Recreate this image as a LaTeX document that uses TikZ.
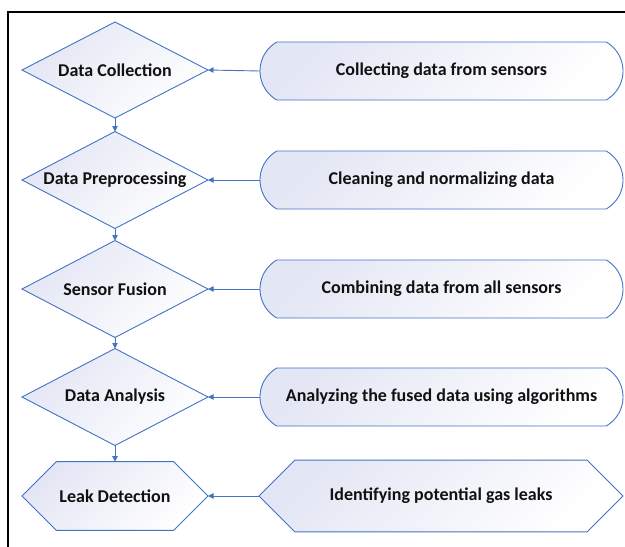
\documentclass[tikz,border=0pt]{standalone}
\usepackage{fontspec}
\setmainfont{Carlito}
\usetikzlibrary{shapes.geometric,shapes.misc,arrows.meta}
\definecolor{edgeblue}{HTML}{4472C4}
\definecolor{fillblue}{HTML}{E3E6F4}
\definecolor{txt}{HTML}{111111}
\tikzset{
  shapebase/.style={draw=edgeblue, line width=0.9pt, inner sep=0pt, outer sep=0pt,
    top color=fillblue, bottom color=white, shading angle=45,
    text=txt, font=\bfseries\fontsize{18}{20}\selectfont},
  decisionbox/.style={shapebase, diamond, aspect=1.92, minimum width=186pt, minimum height=96pt},
  pillbox/.style={shapebase, rounded rectangle, rounded rectangle arc length=120,
    minimum width=363pt, minimum height=58pt},
  hexbox/.style={shapebase, chamfered rectangle, chamfered rectangle xsep=17.5pt,
    chamfered rectangle ysep=28pt, minimum height=57pt},
  link/.style={draw=edgeblue, line width=0.9pt, -{Triangle[length=5.5pt,width=5.5pt]}}
}
\begin{document}
\begin{tikzpicture}[x=1pt,y=1pt]
\useasboundingbox (0,0) rectangle (625,-547);
\draw[line width=1.8pt, black] (625,-12) -- (8,-12) -- (8,-547);

\node[decisionbox] (d1) at (115,-70) {Data Collection};
\node[decisionbox, minimum height=97pt] (d2) at (115,-180) {Data Preprocessing};
\node[decisionbox, minimum height=97pt] (d3) at (115,-289) {Sensor Fusion};
\node[decisionbox, minimum height=97pt] (d4) at (115,-397) {Data Analysis};
\node[hexbox, minimum width=186pt] (h1) at (115,-496) {Leak Detection};

\node[pillbox] (p1) at (441.5,-71) {Collecting data from sensors};
\node[pillbox] (p2) at (441.5,-180) {Cleaning and normalizing data};
\node[pillbox] (p3) at (441.5,-289) {Combining data from all sensors};
\node[pillbox] (p4) at (441.5,-397) {Analyzing the fused data using algorithms};
\node[hexbox, minimum width=364pt, chamfered rectangle xsep=18pt] (h2) at (441,-496) {Identifying potential gas leaks};

\draw[link] (d1.south) -- (d2.north);
\draw[link] (d2.south) -- (d3.north);
\draw[link] (d3.south) -- (d4.north);
\draw[link] (d4.south) -- (h1.north);

\draw[link] (p1.west) -- (d1.east);
\draw[link] (p2.west) -- (d2.east);
\draw[link] (p3.west) -- (d3.east);
\draw[link] (p4.west) -- (d4.east);
\draw[link] (h2.west) -- (h1.east);
\end{tikzpicture}
\end{document}
